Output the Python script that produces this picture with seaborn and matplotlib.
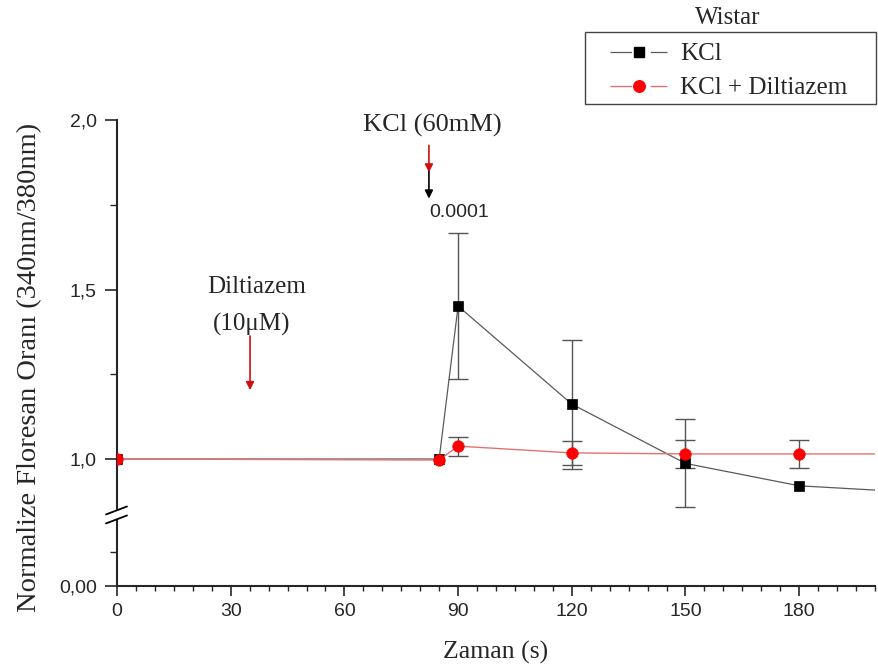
import numpy as np
import matplotlib
matplotlib.use("Agg")
import matplotlib.pyplot as plt
from matplotlib.lines import Line2D
from matplotlib.patches import Rectangle
from matplotlib.ticker import FixedLocator, FixedFormatter
import seaborn as sns

# ---------------- data ----------------
time = [0, 85, 90, 120, 150, 180, 210]
kcl = [1.0, 1.0, 1.451, 1.162, 0.987, 0.921, 0.902]
kcl_err = [0, 0, 0.216, 0.19, 0.13, 0.0, 0]
kcl_dil = [1.0, 0.997, 1.038, 1.018, 1.015, 1.015, 1.015]
kcl_dil_err = [0, 0, 0.028, 0.035, 0.042, 0.041, 0]

series_names = ["KCl", "KCl + Diltiazem"]
legend_title = "Wistar"
x_ticks = [0, 30, 60, 90, 120, 150, 180]
y_ticks = [0.0, 1.0, 1.5, 2.0]
y_tick_labels = ["0,00", "1,0", "1,5", "2,0"]
y_minor = [0.4, 1.25, 1.75]

# ---------------- style ----------------
sns.set_style("ticks")
plt.rcParams["font.family"] = ["Liberation Serif", "DejaVu Serif"]
plt.rcParams["lines.scale_dashes"] = False
SANS = ["Liberation Sans", "DejaVu Sans"]
SERIF = ["Liberation Serif", "DejaVu Serif"]

W, H = 879, 669
fig = plt.figure(figsize=(W / 100, H / 100), dpi=100)
ax = fig.add_axes([117 / W, 83 / H, 758 / W, 466 / H])

# broken y axis via piecewise scale
B, K = 0.835, 0.251


def fwd(y):
    y = np.asarray(y, dtype=float)
    return np.where(y >= B, y, B - (B - y) * K)


def inv(f):
    f = np.asarray(f, dtype=float)
    return np.where(f >= B, f, B - (B - f) / K)


ax.set_yscale("function", functions=(fwd, inv))
ax.set_xlim(0, 200)
ax.set_ylim(0, 2.0)

black_line = "#5a5a5a"
red_line = "#e27272"
err_col = "#555555"

t = np.array(time)
k = np.array(kcl); ke = np.array(kcl_err)
d = np.array(kcl_dil); de = np.array(kcl_dil_err)

m1 = ke > 0
ax.errorbar(t[m1], k[m1], yerr=ke[m1], fmt="none", ecolor=err_col,
            elinewidth=1.0, capsize=7, capthick=1.0, zorder=2)
m2 = de > 0
ax.errorbar(t[m2], d[m2], yerr=de[m2], fmt="none", ecolor=err_col,
            elinewidth=1.0, capsize=7, capthick=1.0, zorder=2)

sns.lineplot(x=time, y=kcl, ax=ax, color=black_line, lw=0.9, marker="s",
             markersize=7.5, markerfacecolor="black", markeredgecolor="black",
             markeredgewidth=0.5, zorder=3)
sns.lineplot(x=time, y=kcl_dil, ax=ax, color=red_line, lw=1.0, marker="o",
             markersize=8.3, markerfacecolor="red", markeredgecolor="red",
             markeredgewidth=0.5, zorder=4)

# axes styling
sns.despine(ax=ax)
ax.spines["left"].set_linewidth(1.5)
ax.spines["bottom"].set_linewidth(1.5)
ax.xaxis.set_major_locator(FixedLocator(x_ticks))
ax.xaxis.set_minor_locator(FixedLocator(np.arange(0, 201, 5)))
ax.yaxis.set_major_locator(FixedLocator(y_ticks))
ax.yaxis.set_major_formatter(FixedFormatter(y_tick_labels))
ax.yaxis.set_minor_locator(FixedLocator(y_minor))
ax.tick_params(axis="x", which="major", direction="out", length=7.5, width=1.2,
               pad=5, labelsize=14)
ax.tick_params(axis="x", which="minor", direction="out", length=3.5, width=1.0)
ax.tick_params(axis="y", which="major", direction="out", length=8.5, width=1.2,
               pad=6, labelsize=14)
ax.tick_params(axis="y", which="minor", direction="out", length=5, width=1.0)
for lab in ax.get_xticklabels() + ax.get_yticklabels():
    lab.set_family(SANS)

ax.set_xlabel("Zaman (s)", fontsize=18.5, family=SERIF, labelpad=15)
ax.set_ylabel("Normalize Floresan Oranı (340nm/380nm)", fontsize=20.5,
              family=SERIF, labelpad=12, y=0.468)

# break marks on the y axis
fig.canvas.draw()
px, py = ax.transData.transform((0, B))
inv_fig = fig.transFigure.inverted()


def fpt(dx, dy):
    return inv_fig.transform((px + dx, py + dy))


gap = Rectangle(fpt(-3, -4), 6 / W, 8 / H, transform=fig.transFigure,
                facecolor="white", edgecolor="none", zorder=10)
fig.add_artist(gap)
for off in (4.5, -4.5):
    a = fpt(-11, off - 4)
    b = fpt(10, off + 4)
    fig.add_artist(Line2D([a[0], b[0]], [a[1], b[1]], transform=fig.transFigure,
                          color="black", lw=1.3, zorder=11))

# annotations
ax.text(83.1, 1.985, "KCl (60mM)", ha="center", va="center", fontsize=19,
        family=SERIF, clip_on=False)
ax.annotate("", xy=(82.3, 1.845), xytext=(82.3, 1.925),
            arrowprops=dict(arrowstyle="-|>", color="#d01010", lw=1.2,
                            mutation_scale=12, shrinkA=0, shrinkB=0))
ax.annotate("", xy=(82.3, 1.768), xytext=(82.3, 1.848),
            arrowprops=dict(arrowstyle="-|>", color="black", lw=1.2,
                            mutation_scale=12, shrinkA=0, shrinkB=0))
ax.text(90.2, 1.726, "0.0001", ha="center", va="center", fontsize=14,
        family=SANS)
ax.text(36.9, 1.508, "Diltiazem", ha="center", va="center", fontsize=18,
        family=SERIF)
ax.text(35.6, 1.398, "(10μM)", ha="center", va="center", fontsize=18,
        family=SERIF)
ax.annotate("", xy=(35.1, 1.203), xytext=(35.1, 1.363),
            arrowprops=dict(arrowstyle="-|>", color="#d01010", lw=1.2,
                            mutation_scale=12, shrinkA=0, shrinkB=0))

# legend
fig.text(728 / W, 1 - 18 / H, legend_title, ha="center", va="center",
         fontsize=18, family=SERIF)
fig.add_artist(Rectangle((585 / W, 1 - 104 / H), 291 / W, 72 / H,
                         transform=fig.transFigure, facecolor="white",
                         edgecolor="#444444", lw=1.0))
dash = (0, (15.5, 13.5, 20))
handles = [
    Line2D([], [], color=black_line, lw=0.9, linestyle=dash, marker="s",
           markersize=7.5, markerfacecolor="black", markeredgecolor="black"),
    Line2D([], [], color=red_line, lw=1.0, linestyle=dash, marker="o",
           markersize=8.3, markerfacecolor="red", markeredgecolor="red"),
]
fig.legend(handles, series_names, loc="upper left",
           bbox_to_anchor=(605 / W, 1 - 38 / H), bbox_transform=fig.transFigure,
           frameon=False, prop={"family": SERIF, "size": 18},
           handlelength=2.3, handletextpad=0.5, labelspacing=0.45,
           borderpad=0.2, borderaxespad=0)

fig.savefig("out.png", dpi=100)
